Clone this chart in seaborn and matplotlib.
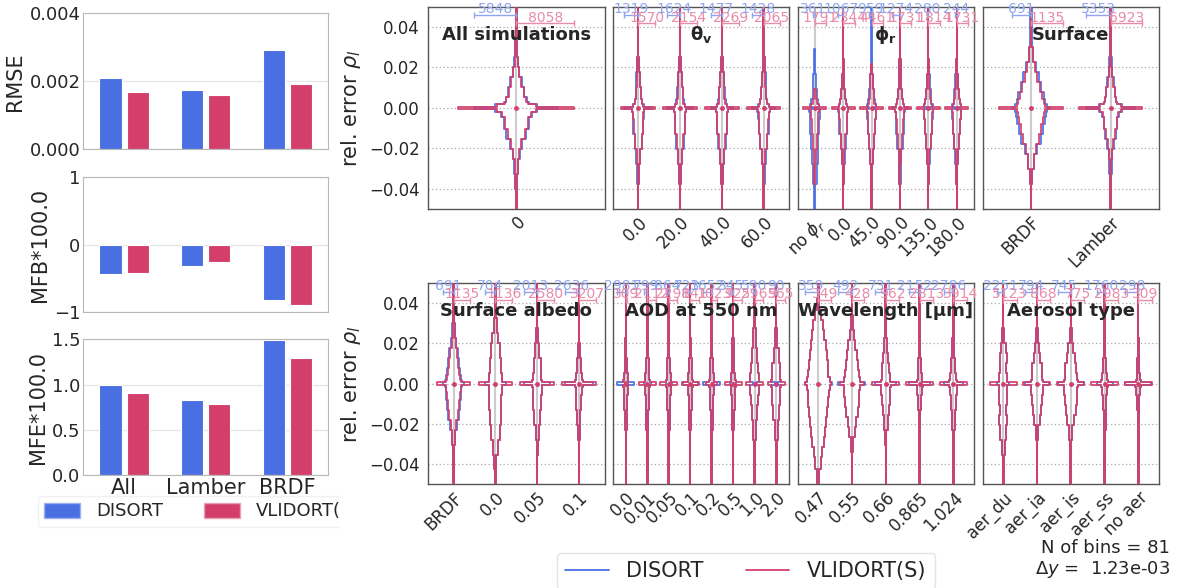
import numpy as np
import pandas as pd
import matplotlib
matplotlib.use("Agg")
import matplotlib.pyplot as plt
import seaborn as sns
from matplotlib.transforms import Bbox, TransformedBbox
from matplotlib.lines import Line2D
from matplotlib.patches import Patch

sns.set_style("white")
plt.rcParams['font.family'] = ['DejaVu Sans']

# ---------------- data: summary bars ----------------
bar_categories = ["All", "Lamber", "BRDF"]
models = ["DISORT", "VLIDORT(S)"]
rmse_disort = [0.00209, 0.00174, 0.00292]
rmse_vlidort = [0.00169, 0.00161, 0.00192]
mfb_disort = [-0.44, -0.31, -0.82]
mfb_vlidort = [-0.42, -0.26, -0.89]
mfe_disort = [0.99, 0.83, 1.49]
mfe_vlidort = [0.91, 0.785, 1.29]

# ---------------- data: histogram "violins" ----------------
# profiles: runs [n_bins, half-width as fraction of the panel's max half-width],
# listed outward from the central bin (upper side / lower side)
n_bins = 81
y_lo, y_hi = -0.05, 0.05

P1_red_up = [[1, .34], [1, .2], [2, .17], [4, .13], [4, .09], [4, .05], [4, .03], [8, .015], [12, .006]]
P1_red_dn = [[1, .34], [2, .25], [5, .2], [4, .15], [4, .09], [4, .05], [6, .03], [6, .015], [8, .006]]
P1_blue_up = [[1, .36], [1, .22], [2, .18], [4, .14], [4, .1], [4, .055], [4, .033], [8, .016], [12, .006]]
P1_blue_dn = [[1, .36], [2, .27], [5, .22], [4, .17], [4, .1], [4, .06], [6, .035], [6, .017], [8, .007]]

TH_red_up = [[1, .3], [2, .2], [5, .15], [6, .1], [6, .05], [20, .015]]
TH_red_dn = [[1, .35], [3, .3], [6, .28], [6, .2], [6, .1], [8, .04], [10, .012]]
TH_blue_up = [[1, .32], [2, .22], [5, .16], [6, .11], [6, .055], [20, .016]]
TH_blue_dn = [[1, .37], [3, .32], [6, .3], [6, .22], [6, .12], [8, .05], [10, .015]]

PH_red_up = [[1, .35], [2, .25], [4, .18], [6, .1], [6, .05], [21, .012]]
PH_red_dn = [[1, .4], [3, .35], [6, .3], [6, .2], [6, .1], [8, .04], [10, .012]]
PH_blue_up = [[1, .37], [2, .27], [4, .2], [6, .11], [6, .06], [21, .014]]
PH_blue_dn = [[1, .42], [3, .37], [6, .33], [6, .23], [6, .12], [8, .05], [10, .015]]
PH0_red_up = [[1, .35], [2, .2], [4, .1]]
PH0_red_dn = [[1, .35], [3, .3], [6, .25], [6, .15], [6, .08], [8, .03]]
PH0_blue_up = [[1, .4], [2, .3], [4, .2], [6, .12], [10, .05]]
PH0_blue_dn = [[1, .5], [3, .45], [6, .4], [6, .3], [6, .25], [8, .2], [10, .05]]
PH45_red_up = [[1, .35], [2, .25], [4, .18], [6, .1], [4, .04]]
PH45_blue_up = [[1, .37], [2, .27], [4, .2], [6, .11], [6, .06], [21, .02]]

BR_red_up = [[1, .45], [2, .4], [3, .35], [4, .28], [4, .2], [4, .12], [6, .06], [16, .015]]
BR_red_dn = [[1, .45], [2, .42], [3, .38], [4, .32], [4, .25], [4, .16], [6, .08], [6, .03], [10, .01]]
BR_blue_up = [[1, .5], [2, .45], [3, .4], [4, .33], [4, .24], [4, .15], [6, .07], [16, .018]]
BR_blue_dn = [[1, .5], [2, .47], [3, .43], [4, .37], [4, .3], [4, .2], [6, .1], [6, .04], [10, .012]]

AL0_red_up = [[1, .4], [3, .38], [6, .34], [6, .28], [4, .18], [6, .08], [14, .015]]
AL0_red_dn = [[1, .4], [3, .38], [6, .36], [6, .32], [6, .26], [6, .15], [6, .06], [6, .015]]
AL5_red_up = [[1, .3], [3, .25], [6, .2], [6, .12], [6, .05], [18, .01]]
AL5_red_dn = [[1, .3], [3, .27], [6, .24], [6, .17], [6, .09], [6, .03], [12, .01]]
AL1_red_up = [[1, .25], [3, .17], [6, .12], [6, .07], [24, .01]]
AL1_red_dn = [[1, .25], [3, .19], [6, .15], [6, .09], [6, .04], [18, .01]]

AOD_red_up = [[1, .3], [3, .22], [6, .15], [8, .08], [22, .03]]
AOD_red_dn = [[1, .3], [3, .24], [6, .18], [8, .1], [22, .03]]
AODH_red_up = [[1, .55], [3, .5], [4, .42], [6, .3], [8, .15], [18, .04]]
AODH_red_dn = [[1, .55], [3, .5], [4, .45], [6, .32], [8, .17], [18, .05]]

WL47_red_up = [[2, .85], [3, .75], [4, .7], [4, .62], [4, .55], [4, .45], [4, .35], [4, .2], [5, .1], [6, .04]]
WL47_red_dn = [[2, .85], [3, .78], [4, .72], [4, .66], [4, .6], [4, .5], [4, .42], [4, .3], [5, .2], [6, .1]]
WL55_red_up = [[2, .6], [3, .52], [4, .45], [4, .36], [4, .26], [4, .16], [6, .07], [13, .015]]
WL55_red_dn = [[2, .62], [3, .55], [4, .5], [4, .42], [4, .32], [4, .2], [6, .1], [13, .02]]
WL66_red_up = [[1, .35], [3, .3], [4, .25], [4, .18], [6, .1], [22, .02]]
WL66_red_dn = [[1, .38], [3, .33], [4, .3], [4, .24], [6, .14], [6, .05], [16, .015]]
WL86_red_up = [[1, .2], [3, .15], [6, .1], [8, .05], [22, .012]]
WL86_red_dn = [[1, .22], [3, .17], [6, .12], [8, .06], [22, .015]]

AE_du_red_up = [[1, .3], [3, .28], [4, .22], [4, .25], [4, .18], [6, .08], [18, .015]]
AE_du_red_dn = [[1, .3], [3, .28], [4, .3], [4, .24], [4, .28], [6, .2], [6, .12], [12, .03]]
AE_ia_red_up = [[1, .45], [3, .4], [4, .34], [4, .25], [4, .15], [6, .06], [18, .012]]
AE_ia_red_dn = [[1, .45], [3, .42], [4, .38], [4, .3], [4, .2], [6, .1], [18, .02]]
AE_is_red_up = [[1, .5], [3, .46], [4, .4], [4, .3], [4, .2], [6, .08], [18, .015]]
AE_is_red_dn = [[1, .5], [3, .48], [4, .44], [4, .36], [4, .25], [6, .12], [18, .02]]
AE_ss_red_up = [[1, .25], [3, .18], [6, .12], [8, .05], [22, .012]]
AE_ss_red_dn = [[1, .27], [3, .2], [6, .14], [8, .07], [22, .015]]
AE_no_red_up = [[1, .2], [3, .12], [6, .07], [8, .03], [22, .008]]
AE_no_red_dn = [[1, .22], [3, .14], [6, .08], [8, .035], [22, .01]]

p1_cats = ["0"]
p1_blue = [5848]
p1_red = [8058]

p2_cats = ["0.0", "20.0", "40.0", "60.0"]
p2_blue = [1319, 1624, 1477, 1428]
p2_red = [1570, 2154, 2269, 2065]

p3_cats = ["no $\\phi_r$", "0.0", "45.0", "90.0", "135.0", "180.0"]
p3_blue = [361, 1067, 959, 1274, 280, 244]
p3_red = [1791, 2344, 4461, 1731, 1814, 1731]

p4_cats = ["BRDF", "Lamber"]
p4_blue = [691, 5353]
p4_red = [1135, 6923]

p5_cats = ["BRDF", "0.0", "0.05", "0.1"]
p5_blue = [691, 704, 2013, 2636]
p5_red = [1135, 1136, 2580, 3207]

p6_cats = ["0.0", "0.01", "0.05", "0.1", "0.2", "0.5", "1.0", "2.0"]
p6_blue = [2981, 799, 864, 723, 1652, 345, 590, 90]
p6_red = [309, 2112, 2291, 841, 1023, 925, 2965, 965]

p7_cats = ["0.47", "0.55", "0.66", "0.865", "1.024"]
p7_blue = [359, 492, 731, 2152, 2786]
p7_red = [349, 428, 962, 2813, 3914]

p8_cats = ["aer_du", "aer_ia", "aer_is", "aer_ss", "no aer"]
p8_blue = [2251, 794, 745, 1760, 298]
p8_red = [5123, 868, 775, 2983, 309]

panels = [
    dict(title="All simulations", cats=p1_cats, blue=p1_blue, red=p1_red,
         red_up=[P1_red_up], red_dn=[P1_red_dn], blue_up=[P1_blue_up], blue_dn=[P1_blue_dn]),
    dict(title="$\\mathbf{\\theta_v}$", cats=p2_cats, blue=p2_blue, red=p2_red,
         red_up=[TH_red_up] * 4, red_dn=[TH_red_dn] * 4, blue_up=[TH_blue_up] * 4, blue_dn=[TH_blue_dn] * 4),
    dict(title="$\\mathbf{\\phi_r}$", cats=p3_cats, blue=p3_blue, red=p3_red,
         red_up=[PH0_red_up, PH_red_up, PH45_red_up, PH_red_up, PH_red_up, PH_red_up],
         red_dn=[PH0_red_dn] + [PH_red_dn] * 5,
         blue_up=[PH0_blue_up, PH_blue_up, PH45_blue_up, PH_blue_up, PH_blue_up, PH_blue_up],
         blue_dn=[PH0_blue_dn] + [PH_blue_dn] * 5),
    dict(title="Surface", cats=p4_cats, blue=p4_blue, red=p4_red,
         red_up=[BR_red_up, P1_red_up], red_dn=[BR_red_dn, P1_red_dn],
         blue_up=[BR_blue_up, P1_blue_up], blue_dn=[BR_blue_dn, P1_blue_dn]),
    dict(title="Surface albedo", cats=p5_cats, blue=p5_blue, red=p5_red,
         red_up=[BR_red_up, AL0_red_up, AL5_red_up, AL1_red_up],
         red_dn=[BR_red_dn, AL0_red_dn, AL5_red_dn, AL1_red_dn],
         blue_up=[BR_blue_up, AL0_red_up, AL5_red_up, AL1_red_up],
         blue_dn=[BR_blue_dn, AL0_red_dn, AL5_red_dn, AL1_red_dn]),
    dict(title="AOD at 550 nm", cats=p6_cats, blue=p6_blue, red=p6_red,
         red_up=[AOD_red_up] * 6 + [AODH_red_up] * 2, red_dn=[AOD_red_dn] * 6 + [AODH_red_dn] * 2,
         blue_up=[AOD_red_up] * 6 + [AODH_red_up] * 2, blue_dn=[AOD_red_dn] * 6 + [AODH_red_dn] * 2),
    dict(title="Wavelength [µm]", cats=p7_cats, blue=p7_blue, red=p7_red,
         red_up=[WL47_red_up, WL55_red_up, WL66_red_up, WL86_red_up, AOD_red_up],
         red_dn=[WL47_red_dn, WL55_red_dn, WL66_red_dn, WL86_red_dn, AOD_red_dn],
         blue_up=[WL47_red_up, WL55_red_up, WL66_red_up, WL86_red_up, AOD_red_up],
         blue_dn=[WL47_red_dn, WL55_red_dn, WL66_red_dn, WL86_red_dn, AOD_red_dn]),
    dict(title="Aerosol type", cats=p8_cats, blue=p8_blue, red=p8_red,
         red_up=[AE_du_red_up, AE_ia_red_up, AE_is_red_up, AE_ss_red_up, AE_no_red_up],
         red_dn=[AE_du_red_dn, AE_ia_red_dn, AE_is_red_dn, AE_ss_red_dn, AE_no_red_dn],
         blue_up=[AE_du_red_up, AE_ia_red_up, AE_is_red_up, AE_ss_red_up, AE_no_red_up],
         blue_dn=[AE_du_red_dn, AE_ia_red_dn, AE_is_red_dn, AE_ss_red_dn, AE_no_red_dn]),
]

# ---------------- style ----------------
BLUE = "#4A6FE3"
RED = "#D33F6A"
BLUE_L = "#8FA6EE"
RED_L = "#E98CA8"
W = 0.4

fig = plt.figure(figsize=(11.82, 5.88), dpi=100)
FW, FH = 1182.0, 588.0


def px_axes(left, top, right, bottom):
    return fig.add_axes([left / FW, 1 - bottom / FH, (right - left) / FW, (bottom - top) / FH])


# ---------------- left summary bars ----------------
df = pd.DataFrame({
    "cat": bar_categories * 2,
    "model": [models[0]] * 3 + [models[1]] * 3,
    "RMSE": rmse_disort + rmse_vlidort,
    "MFB": mfb_disort + mfb_vlidort,
    "MFE": mfe_disort + mfe_vlidort,
})
bar_axes = [px_axes(83.3, 13.3, 328.3, 149.3), px_axes(83.3, 177, 328.3, 312.3), px_axes(83.3, 339.3, 328.3, 475)]
bar_specs = [("RMSE", "RMSE", (0, 0.004), [0, 0.002, 0.004], ["0.000", "0.002", "0.004"]),
             ("MFB", "MFB*100.0", (-1, 1), [-1, 0, 1], ["\u22121", "0", "1"]),
             ("MFE", "MFE*100.0", (0, 1.5), [0, 0.5, 1.0, 1.5], ["0.0", "0.5", "1.0", "1.5"])]
for i, (ax, (col, lab, lim, ticks, tl)) in enumerate(zip(bar_axes, bar_specs)):
    sns.barplot(data=df, x="cat", y=col, hue="model", palette=[BLUE, RED], width=0.667, gap=0.19,
                ax=ax, legend=False, edgecolor="white", linewidth=0.8, saturation=1)
    ax.set_ylim(*lim)
    ax.set_yticks(ticks)
    ax.set_yticklabels(tl, fontsize=13)
    ax.set_xlim(-0.5, 2.5)
    ax.set_ylabel(lab, fontsize=15, labelpad=3)
    ax.set_xlabel("")
    ax.yaxis.grid(True, color="#e6e6e6", lw=1)
    ax.set_axisbelow(True)
    for s in ax.spines.values():
        s.set_color("#b8b8b8")
    ax.tick_params(axis="x", length=3, color="#b8b8b8")
    ax.tick_params(axis="y", length=0, pad=2)
    if i < 2:
        ax.set_xticklabels([])
    else:
        ax.set_xticklabels(bar_categories, fontsize=15)
        ax.tick_params(axis="x", pad=0, length=2)

leg1 = fig.legend(handles=[Patch(facecolor=BLUE, edgecolor="#9db0f0"), Patch(facecolor=RED, edgecolor="#eca0b5")],
                  labels=models, ncol=2, fontsize=13, loc="upper left",
                  bbox_to_anchor=(38 / FW, 1 - 496 / FH),
                  borderaxespad=0, frameon=True, handlelength=2.0, handleheight=0.9,
                  columnspacing=2.3, borderpad=0.35, handletextpad=0.85)
leg1.get_frame().set_edgecolor("#eeeeee")
leg1.set_zorder(-1)
clip = TransformedBbox(Bbox([[0, 0], [340 / FW, 1]]), fig.transFigure)
for a in [leg1.get_frame()] + leg1.get_texts() + leg1.legend_handles:
    a.set_clip_box(clip)
    a.set_clip_on(True)

# ---------------- violin panels ----------------
lefts = [428, 612.7, 797.5, 982.5]
rows = [(6.5, 209), (283, 484.4)]
edges = np.linspace(y_lo, y_hi, n_bins + 1)
c = n_bins // 2


def widths(center, up, dn):
    w = np.zeros(n_bins)
    w[c] = center
    k = c + 1
    for n, v in up:
        w[k:k + n] = v
        k += n
    k = c - 1
    for n, v in dn:
        w[max(k - n + 1, 0):k + 1] = v
        k -= n
    return w * W


def outline(w):
    xs, ys = [], []
    for i in range(n_bins):
        if w[i] <= 0:
            continue
        if i == 0 or w[i - 1] <= 0:
            xs.append(0); ys.append(edges[i])
        xs += [w[i], w[i]]
        ys += [edges[i], edges[i + 1]]
        if i == n_bins - 1 or w[i + 1] <= 0:
            xs += [0, np.nan]; ys += [edges[i + 1], np.nan]
    return np.array(xs), np.array(ys)


for pi, p in enumerate(panels):
    r, col = divmod(pi, 4)
    top, bot = rows[r]
    ax = px_axes(lefts[col], top, lefts[col] + 176.5, bot)
    n = len(p["cats"])
    ax.set_xlim(-0.61, n - 0.39)
    ax.set_ylim(y_lo, y_hi)
    ax.set_yticks([-0.04, -0.02, 0.0, 0.02, 0.04])
    ax.yaxis.grid(True, color="#aaaaaa", ls=(0, (1, 2)), lw=0.9)
    ax.set_axisbelow(True)
    for s in ax.spines.values():
        s.set_color("#555555")
        s.set_linewidth(1.0)
    ax.tick_params(axis="y", length=4, color="#555555", labelsize=12, pad=2)
    ax.tick_params(axis="x", length=0, labelsize=12, pad=3)
    if col == 0:
        ax.set_yticklabels(["\u22120.04", "\u22120.02", "0.00", "0.02", "0.04"])
        ax.set_ylabel("rel. error $\\rho_l$", fontsize=15, labelpad=4)
    else:
        ax.set_yticklabels([])
    ax.set_xticks(range(n))
    ax.set_xticklabels(p["cats"], rotation=45, ha="right", rotation_mode="anchor")
    trans = ax.get_xaxis_transform()
    hgt = bot - top
    yb_txt = 1 - 2.5 / hgt
    yb_line = 1 - 8.5 / hgt
    yr_txt = 1 - 11.5 / hgt
    yr_line = 1 - 16.8 / hgt
    for j in range(n):
        cb, cr = p["blue"][j], p["red"][j]
        m = max(cb, cr)
        ax.plot([j, j], [y_lo, y_hi], color="#cccccc", lw=1.5, zorder=2)
        for cnt, up, dn, colr in [(cb, p["blue_up"][j], p["blue_dn"][j], BLUE),
                                  (cr, p["red_up"][j], p["red_dn"][j], RED)]:
            w = widths(cnt / m, up, dn)
            xs, ys = outline(w)
            ax.plot(j + xs, ys, color=colr, lw=1.3, zorder=3, alpha=0.95)
            ax.plot(j - xs, ys, color=colr, lw=1.3, zorder=3, alpha=0.95)
        ax.plot([j], [0.0], marker="o", ms=2.5, color=RED, zorder=4)
        # count annotations with scale brackets
        wb, wr = W * cb / m, W * cr / m
        ax.plot([j - wb, j], [yb_line, yb_line], transform=trans, color=BLUE_L, lw=1,
                marker="|", ms=5, clip_on=False, zorder=5)
        ax.text(j - wb / 2, yb_txt, str(cb), transform=trans, color=BLUE_L, fontsize=10,
                ha="center", va="center", clip_on=False, zorder=6)
        ax.plot([j, j + wr], [yr_line, yr_line], transform=trans, color=RED_L, lw=1,
                marker="|", ms=5, clip_on=False, zorder=5)
        ax.text(j + wr / 2, yr_txt, str(cr), transform=trans, color=RED_L, fontsize=10,
                ha="center", va="center", clip_on=False, zorder=6)
    ax.text(0.5, 0.86, p["title"], transform=ax.transAxes, ha="center", va="center",
            fontsize=13, fontweight="bold", zorder=7)

fig.legend(handles=[Line2D([], [], color=BLUE, lw=1.3), Line2D([], [], color=RED, lw=1.3)],
           labels=models, ncol=2, fontsize=15, loc="upper left",
           bbox_to_anchor=(556.7 / FW, 1 - 552.7 / FH), borderaxespad=0, frameon=True,
           handlelength=2.1, handletextpad=0.85, columnspacing=2.0, borderpad=0.4, edgecolor="#dddddd")
fig.text(1170 / FW, 1 - 548 / FH, "N of bins = 81", ha="right", va="center", fontsize=13)
fig.text(1170 / FW, 1 - 569 / FH, "$\\Delta y$ =  1.23e-03", ha="right", va="center", fontsize=13)

fig.savefig("out.png", dpi=100)
